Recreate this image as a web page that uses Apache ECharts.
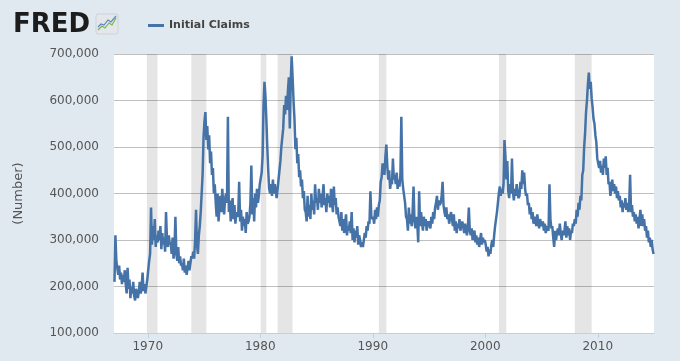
<!DOCTYPE html>
<html>
<head>
<meta charset="utf-8">
<script src="https://cdn.jsdelivr.net/npm/echarts@6/dist/echarts.min.js"></script>
<style>
  html, body { margin: 0; padding: 0; background: #e1e9f0; }
  #chart { width: 680px; height: 361px; }
</style>
</head>
<body>
<div id="chart"></div>
<script>
const firstYear = 1967;

const claims1960s = [
  210, 310, 255, 240, 225, 245, 215, 230, 205, 225, 210, 235,
  205, 185, 240, 195, 215, 175, 200, 185, 210, 180, 170, 195,
  195, 175, 190, 210, 185, 200, 230, 190, 205, 185, 200, 215
];
const claims1970s = [
  235, 255, 270, 370, 290, 330, 300, 345, 285, 310, 295, 320,
  300, 330, 280, 315, 290, 305, 275, 360, 300, 285, 310, 290,
  295, 270, 305, 260, 280, 350, 270, 255, 285, 250, 265, 245,
  250, 235, 260, 230, 245, 225, 240, 255, 235, 250, 265, 260,
  275, 260, 300, 365, 290, 270, 310, 330, 360, 400, 440, 520,
  555, 575, 515, 545, 495, 525, 465, 490, 440, 455, 400, 420,
  380, 350, 400, 340, 370, 395, 360, 410, 375, 355, 390, 400,
  380, 565, 360, 385, 340, 370, 390, 345, 375, 335, 360, 350,
  355, 425, 340, 365, 320, 350, 330, 345, 315, 360, 335, 340,
  350, 380, 460, 355, 390, 340, 400, 370, 410, 380, 395, 420
];
const claims1980s = [
  420, 445, 480, 590, 640, 610, 560, 500, 450, 410, 400, 420,
  395, 430, 400, 420, 405, 390, 410, 430, 450, 470, 500, 520,
  540, 590, 570, 610, 580, 620, 650, 540, 640, 695, 650, 600,
  560, 495, 520, 465, 485, 435, 450, 415, 430, 390, 405, 365,
  360, 340, 395, 350, 375, 345, 400, 365, 385, 355, 420, 380,
  390, 365, 410, 380, 400, 370, 395, 420, 375, 390, 360, 400,
  380, 395, 370, 410, 385, 360, 415, 375, 390, 355, 370, 350,
  350, 330, 360, 320, 345, 315, 335, 355, 310, 330, 320, 340,
  315, 360, 300, 325, 295, 320, 305, 330, 290, 310, 300, 285,
  295, 285, 300, 315, 305, 330, 320, 340, 335, 405, 350, 345
];
const claims1990s = [
  350, 335, 365, 345, 370, 350, 375, 385, 425, 435, 465, 455,
  440, 480, 505, 460, 430, 450, 410, 425, 420, 475, 430, 440,
  420, 445, 410, 430, 415, 440, 565, 430, 410, 395, 380, 350,
  345, 320, 370, 335, 355, 330, 360, 415, 340, 325, 350, 335,
  295, 405, 330, 360, 340, 320, 350, 330, 345, 320, 335, 340,
  340, 325, 350, 335, 360, 345, 370, 380, 395, 365, 385, 375,
  380, 395, 425, 375, 360, 350, 370, 345, 355, 335, 350, 360,
  345, 330, 355, 320, 340, 315, 335, 325, 345, 320, 330, 340,
  330, 315, 335, 320, 310, 330, 370, 320, 310, 325, 300, 315,
  320, 295, 310, 290, 305, 285, 300, 315, 290, 305, 295, 300
];
const claims2000s = [
  290, 275, 285, 265, 280, 270, 290, 300, 285, 310, 330, 345,
  360, 380, 400, 415, 395, 410, 400, 420, 515, 480, 430, 470,
  405, 390, 420, 400, 475, 405, 385, 410, 395, 420, 400, 390,
  395, 425, 410, 450, 420, 445, 410, 395, 400, 375, 380, 355,
  370, 345, 360, 335, 350, 340, 330, 355, 340, 325, 345, 335,
  330, 340, 320, 335, 315, 330, 325, 320, 420, 345, 325, 330,
  305, 285, 320, 300, 315, 325, 310, 335, 315, 300, 320, 310,
  320, 340, 305, 330, 310, 325, 300, 320, 315, 335, 330, 345,
  335, 365, 350, 380, 365, 395, 385, 440, 450, 500, 530, 575,
  600, 635, 660, 625, 640, 605, 585, 560, 550, 525, 510, 475
];
const claims2010s = [
  475, 455, 470, 445, 460, 440, 475, 455, 480, 440, 455, 420,
  425, 395, 410, 430, 405, 420, 400, 415, 390, 405, 385, 395,
  370, 385, 360, 380, 370, 390, 365, 380, 360, 375, 440, 360,
  375, 350, 360, 340, 355, 335, 350, 325, 345, 365, 330, 355,
  330, 345, 320, 330, 305, 320, 295, 305, 285, 300, 280, 270
];

// NBER recessions (decimal years)
const recessions = [
  [1969.92, 1970.87], [1973.87, 1975.21], [1980.04, 1980.54],
  [1981.54, 1982.87], [1990.54, 1991.21], [2001.21, 2001.87],
  [2007.96, 2009.46]
];
const decadeTicks = [1970, 1980, 1990, 2000, 2010];

const claims = [].concat(claims1960s, claims1970s, claims1980s, claims1990s, claims2000s, claims2010s);
const seriesData = claims.map((v, i) => [firstYear + (i + 0.5) / 12, v * 1000]);

const chart = echarts.init(document.getElementById('chart'));

const option = {
  backgroundColor: '#e1e9f0',
  animation: false,
  textStyle: { fontFamily: 'DejaVu Sans' },
  graphic: [
    {
      type: 'text',
      style: { x: 13, y: 25, text: 'FRED', font: 'bold 26px "DejaVu Sans"', fill: '#1c1c1c', textVerticalAlign: 'middle' }
    },
    {
      type: 'rect',
      shape: { x: 96, y: 14, width: 22, height: 20, r: 2 },
      style: { fill: '#e4e7ea', stroke: '#cdd2d7', lineWidth: 1 }
    },
    {
      type: 'polyline',
      shape: { points: [[98, 30], [102, 26], [105, 28], [109, 23], [112, 25], [116, 18]] },
      style: { stroke: '#7ab648', lineWidth: 1.2, fill: null }
    },
    {
      type: 'polyline',
      shape: { points: [[98, 27], [101, 24], [104, 25], [108, 20], [111, 22], [116, 16]] },
      style: { stroke: '#5b86c6', lineWidth: 1.2, fill: null }
    }
  ],
  legend: {
    left: 143,
    top: 15,
    icon: 'rect',
    itemWidth: 16,
    itemHeight: 3,
    textStyle: { fontWeight: 'bold', fontSize: 11, color: '#444', fontFamily: 'DejaVu Sans' },
    data: ['Initial Claims']
  },
  grid: {
    left: 114,
    right: 26,
    top: 54,
    bottom: 28,
    show: true,
    backgroundColor: '#fff',
    borderWidth: 0
  },
  xAxis: {
    type: 'value',
    min: 1967,
    max: 2015,
    axisLine: { lineStyle: { color: '#c0d0e0' } },
    axisTick: { customValues: decadeTicks, length: 5, lineStyle: { color: '#c0d0e0' } },
    axisLabel: { customValues: decadeTicks, color: '#555', fontSize: 12, margin: 8, formatter: v => String(v) },
    splitLine: { show: false }
  },
  yAxis: {
    type: 'value',
    min: 100000,
    max: 700000,
    interval: 100000,
    name: '(Number)',
    nameLocation: 'middle',
    nameRotate: 90,
    nameGap: 89,
    nameTextStyle: { color: '#555', fontSize: 13 },
    axisLabel: {
      color: '#555',
      fontSize: 12,
      margin: 15,
      formatter: v => v.toLocaleString('en-US')
    },
    axisLine: { show: false },
    axisTick: { show: false },
    splitLine: { lineStyle: { color: '#c0c0c0' } }
  },
  series: [{
    name: 'Initial Claims',
    type: 'line',
    data: seriesData,
    showSymbol: false,
    lineStyle: { width: 2.5, color: '#4572a7' },
    itemStyle: { color: '#4572a7' },
    markArea: {
      silent: true,
      itemStyle: { color: 'rgba(0,0,0,0.1)' },
      data: recessions.map(r => [{ xAxis: r[0] }, { xAxis: r[1] }])
    }
  }]
};

chart.setOption(option);
</script>
</body>
</html>
